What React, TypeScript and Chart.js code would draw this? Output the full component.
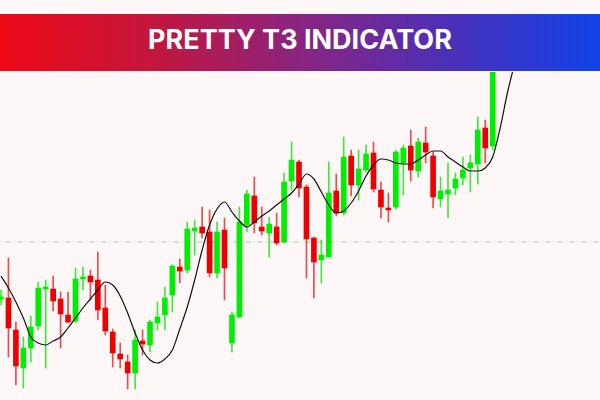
import React, { useEffect, useRef } from "react";
import { Chart, registerables } from "chart.js";

Chart.register(...registerables);

// ---- data (price levels, arbitrary units) ----
const title = "PRETTY T3 INDICATOR";

const opens = [
  101, 102, 70, 32, 52, 74, 111, 111, 101, 85,
  79, 121, 124, 120, 92, 68, 46, 38, 27, 59,
  55, 77, 85, 105, 133, 130, 169, 173, 168, 127,
  170, 57, 83, 175, 204, 173, 167, 173, 158, 219,
  238, 213, 162, 140, 143, 209, 187, 244, 215, 230,
  247, 210, 192, 193, 237, 254, 229, 257, 244, 201,
  206, 212, 222, 232, 236, 272, 254,
];
const closes = [
  103, 72, 34, 52, 73, 112, 113, 99, 86, 78,
  121, 123, 118, 90, 69, 47, 41, 27, 60, 56,
  78, 83, 102, 134, 129, 171, 172, 167, 127, 168,
  132, 85, 178, 206, 177, 169, 176, 157, 218, 240,
  212, 161, 138, 145, 207, 187, 243, 215, 231, 246,
  211, 193, 190, 248, 252, 230, 258, 248, 203, 209,
  210, 221, 230, 237, 270, 252, 360,
];
const highs = [
  110, 142, 78, 63, 84, 118, 120, 124, 108, 108,
  132, 133, 130, 148, 115, 71, 57, 45, 70, 70,
  80, 98, 113, 135, 141, 178, 180, 193, 190, 178,
  182, 88, 193, 210, 223, 193, 183, 187, 227, 258,
  240, 215, 163, 160, 238, 226, 263, 250, 250, 255,
  258, 218, 207, 250, 255, 270, 262, 273, 248, 223,
  237, 227, 243, 245, 283, 280, 380,
];
const lows = [
  95, 43, 15, 12, 38, 70, 32, 89, 52, 77,
  77, 110, 100, 80, 65, 33, 32, 11, 11, 45,
  48, 70, 70, 88, 117, 127, 145, 162, 123, 122,
  100, 48, 82, 168, 167, 165, 143, 155, 157, 210,
  203, 122, 102, 117, 143, 184, 185, 204, 200, 228,
  208, 182, 178, 191, 205, 219, 223, 237, 192, 193,
  182, 205, 215, 208, 216, 237, 250,
];
const t3Values = [
  124, 112, 98, 82, 63, 57, 55, 59, 63, 72,
  82, 92, 101, 110, 118, 115, 104, 87, 67, 50,
  40, 37, 41, 50, 71, 93, 120, 150, 175, 191,
  198, 188, 179, 173, 178, 184, 189, 195, 201, 207,
  216, 226, 221, 208, 195, 187, 189, 197, 209, 224,
  235, 241, 240, 237, 236, 236, 240, 245, 249, 249,
  243, 238, 233, 229, 229, 232, 243, 272, 308, 338,
];
const levelValue = 158;

const UP = "#00ee00";
const DOWN = "#ee0000";
const UP_WICK = "rgba(0,225,0,0.75)";
const DOWN_WICK = "rgba(230,0,0,0.7)";

export default function App() {
  const canvasRef = useRef<HTMLCanvasElement | null>(null);

  useEffect(() => {
    if (!canvasRef.current) return;
    const isUp = opens.map((o, i) => closes[i] >= o);
    const chart = new Chart(canvasRef.current, {
      type: "bar",
      data: {
        datasets: [
          {
            type: "line",
            data: [
              { x: -1, y: levelValue },
              { x: 81, y: levelValue },
            ],
            borderColor: "#a8bea8",
            borderWidth: 1,
            borderDash: [5, 3, 1, 3],
            pointRadius: 0,
            order: 5,
          } as any,
          {
            data: lows.map((l, i) => ({ x: i, y: [l, highs[i]] })),
            backgroundColor: isUp.map((u) => (u ? UP_WICK : DOWN_WICK)),
            borderWidth: 0,
            barThickness: 1,
            grouped: false,
            order: 3,
          } as any,
          {
            data: opens.map((o, i) => ({ x: i, y: [o, closes[i]] })),
            backgroundColor: isUp.map((u) => (u ? UP : DOWN)),
            borderWidth: 0,
            barThickness: 5,
            minBarLength: 1,
            grouped: false,
            order: 2,
          } as any,
          {
            type: "line",
            data: t3Values.map((v, i) => ({ x: i, y: v })),
            borderColor: "#111111",
            borderWidth: 1.2,
            pointRadius: 0,
            cubicInterpolationMode: "monotone",
            order: 0,
          } as any,
        ],
      },
      options: {
        animation: false,
        responsive: false,
        events: [],
        layout: { padding: 0 },
        plugins: { legend: { display: false }, tooltip: { enabled: false } },
        scales: {
          x: {
            type: "linear",
            min: -0.134,
            max: 80.403,
            offset: false,
            display: false,
          },
          y: { min: 0, max: 328, display: false },
        },
      } as any,
    });
    return () => chart.destroy();
  }, []);

  return (
    <div
      style={{
        position: "fixed",
        left: 0,
        top: 0,
        width: 600,
        height: 400,
        background: "#fdf8f7",
        overflow: "hidden",
      }}
    >
      <div style={{ position: "absolute", left: 0, top: 72, width: 600, height: 328 }}>
        <canvas ref={canvasRef} width={600} height={328} style={{ display: "block" }} />
      </div>
      <div
        style={{
          position: "absolute",
          left: 0,
          top: 14,
          width: 600,
          height: 57,
          background:
            "linear-gradient(90deg, #ee0818 0%, #c4163c 25%, #8a2480 50%, #4a30b8 75%, #1242e8 100%)",
          display: "flex",
          alignItems: "center",
          justifyContent: "center",
          color: "#ffffff",
          fontFamily: "Inter, 'Open Sans', sans-serif",
          fontWeight: 700,
          fontSize: 27,
          paddingBottom: 6,
          boxSizing: "border-box",
        }}
      >
        {title}
      </div>
    </div>
  );
}
